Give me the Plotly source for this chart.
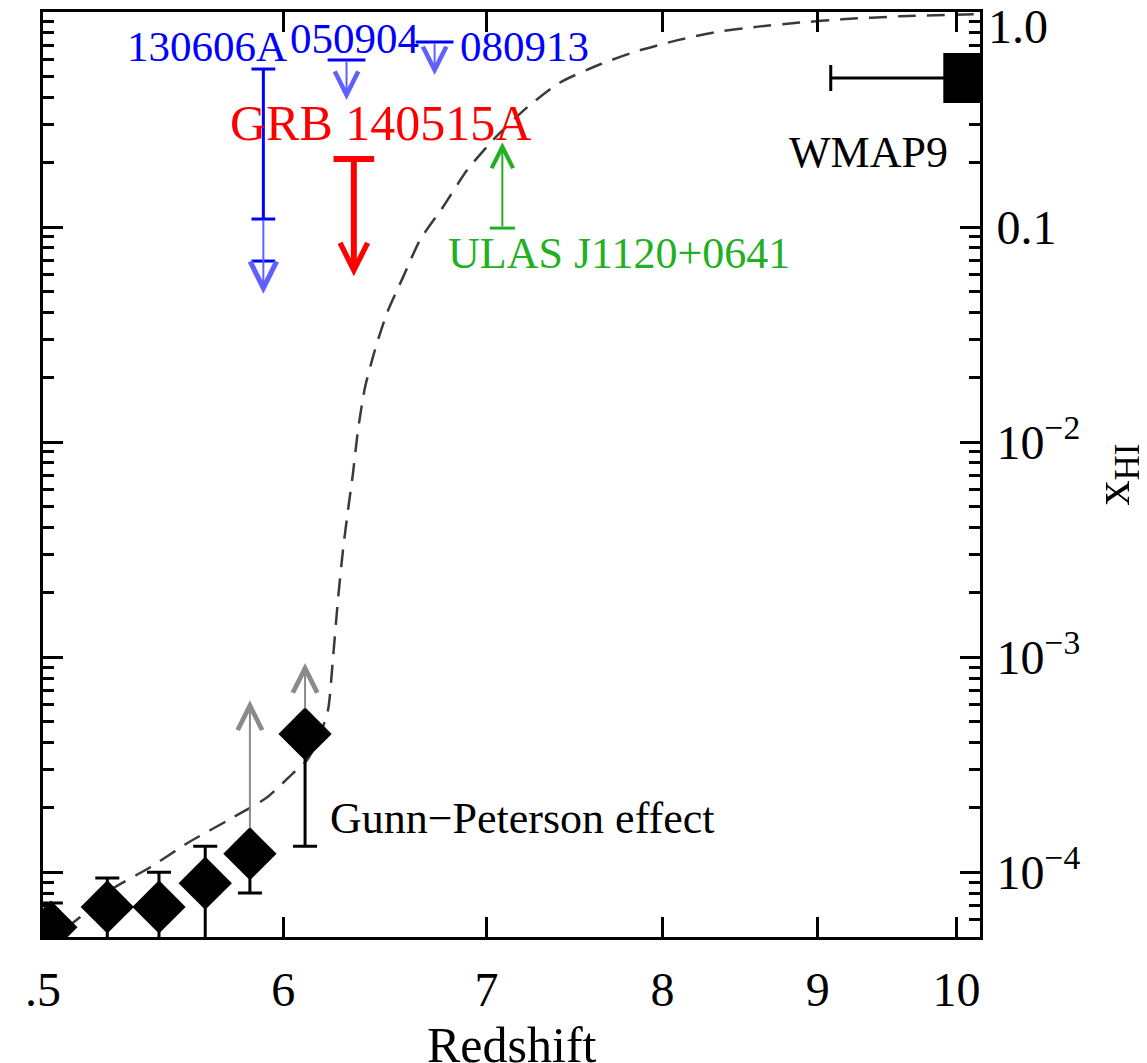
import numpy as np
import plotly.graph_objects as go

# ---------------- data ----------------
# Gunn-Peterson (quasar) constraints
gp_z = [5.03, 5.25, 5.46, 5.655, 5.85, 6.10]
gp_xhi = [5.55e-5, 6.9e-5, 6.9e-5, 8.9e-5, 1.22e-4, 4.4e-4]
gp_upper = [7.2e-5, 9.4e-5, 1.0e-4, 1.32e-4, 1.22e-4, 4.4e-4]
gp_lower = [1e-5, 1e-5, 1e-5, 1e-5, 8.0e-5, 1.32e-4]
# lower-limit arrows (grey) on the two highest-z quasar points
gp_lim_z = [5.85, 6.10]
gp_lim_from = [1.22e-4, 4.4e-4]
gp_lim_to = [6.3e-4, 9.4e-4]

# reionization model curve (dashed)
model_z = [5.0, 5.142, 5.261, 5.424, 5.578, 5.776, 5.927, 6.045, 6.109, 6.160,
           6.207, 6.231, 6.254, 6.278, 6.302, 6.326, 6.350, 6.384, 6.432, 6.491,
           6.571, 6.656, 6.773, 6.898, 7.035, 7.219, 7.402, 7.628, 7.84, 8.094,
           8.344, 8.601, 8.879, 9.168, 9.58, 10.18]
model_xhi = [4.57e-5, 6.18e-5, 8.25e-5, 1.055e-4, 1.364e-4, 1.80e-4, 2.23e-4, 2.89e-4,
             3.32e-4, 4.11e-4, 5.66e-4, 1.0e-3, 1.84e-3, 3.15e-3, 4.83e-3, 7.18e-3,
             1.14e-2, 1.80e-2, 2.68e-2, 3.98e-2, 5.85e-2, 8.71e-2, 0.124, 0.184,
             0.254, 0.36, 0.47, 0.57, 0.655, 0.74, 0.81, 0.855, 0.893, 0.925,
             0.955, 0.978]

# GRB 130606A: measured range + upper limit
g130606_z = 5.91
g130606_range = [0.543, 0.109]
g130606_limit = 0.0695
g130606_arrow = [0.109, 0.049]

# GRB 050904 and GRB 080913 upper limits
g050904_z = 6.295
g050904_arrow = [0.598, 0.39]
g080913_z = 6.73
g080913_arrow = [0.725, 0.509]

# GRB 140515A upper limit
g140515_z = 6.33
g140515_arrow = [0.207, 0.059]

# ULAS J1120+0641 lower limit
ulas_z = 7.085
ulas_arrow = [0.0989, 0.248]

# WMAP9
wmap_z = 10.09
wmap_xhi = 0.493
wmap_zerr_minus = 1.0

# labels
label_text = ["130606A", "050904", "080913", "GRB 140515A",
              "ULAS J1120+0641", "WMAP9", "Gunn\u2212Peterson effect"]
label_z = [5.32, 6.02, 6.85, 5.755, 6.79, 8.79, 6.207]
label_xhi = [0.688, 0.757, 0.688, 0.305, 0.0757, 0.223, 1.78e-4]
label_color = ["#0000ff", "#0000ff", "#0000ff", "#ff0000", "#22b022", "black", "black"]
label_size = [43, 43, 43, 50, 44, 44, 44]

x_tickvals = [5, 6, 7, 8, 9, 10]
x_ticktext = [".5", "6", "7", "8", "9", "10"]
y_tickvals = [1e-4, 1e-3, 1e-2, 0.1, 1.0]
y_ticktext = ["10<sup>\u22124</sup>", "10<sup>\u22123</sup>", "10<sup>\u22122</sup>", "0.1", ""]

# ---------------- figure ----------------
FONT = "Liberation Serif"
BLUE = "#0000ff"
LBLUE = "#6060ff"
RED = "#ff0000"
GREEN = "#22b022"
GREY = "#8a8a8a"

fig = go.Figure()

# dashed model curve
fig.add_trace(go.Scatter(x=model_z, y=model_xhi, mode="lines", line_shape="spline",
                         line=dict(color="#3a3a3a", width=2.5, dash="18px,11px", smoothing=0.6),
                         hoverinfo="skip", showlegend=False))

# Gunn-Peterson points
fig.add_trace(go.Scatter(
    x=gp_z, y=gp_xhi, mode="markers",
    marker=dict(symbol="diamond", size=41, color="black"),
    error_y=dict(type="data", symmetric=False,
                 array=[u - v for u, v in zip(gp_upper, gp_xhi)],
                 arrayminus=[v - l for v, l in zip(gp_xhi, gp_lower)],
                 color="black", thickness=3, width=12),
    showlegend=False))

# GRB 130606A range with caps
fig.add_trace(go.Scatter(x=[g130606_z] * 2, y=g130606_range, mode="lines+markers",
                         line=dict(color=BLUE, width=3),
                         marker=dict(symbol="line-ew", size=17, line=dict(color=BLUE, width=3)),
                         showlegend=False))
fig.add_trace(go.Scatter(x=[g130606_z], y=[g130606_limit], mode="markers",
                         marker=dict(symbol="line-ew", size=17, line=dict(color=BLUE, width=3)),
                         showlegend=False))
# caps of other upper limits
fig.add_trace(go.Scatter(x=[g050904_z, g080913_z], y=[g050904_arrow[0], g080913_arrow[0]],
                         mode="markers",
                         marker=dict(symbol="line-ew", size=27, line=dict(color=BLUE, width=3)),
                         showlegend=False))
fig.add_trace(go.Scatter(x=[g140515_z], y=[g140515_arrow[0]], mode="markers",
                         marker=dict(symbol="line-ew", size=29, line=dict(color=RED, width=6)),
                         showlegend=False))
fig.add_trace(go.Scatter(x=[ulas_z], y=[ulas_arrow[0]], mode="markers",
                         marker=dict(symbol="line-ew", size=18, line=dict(color=GREEN, width=3)),
                         showlegend=False))

# WMAP9
fig.add_trace(go.Scatter(x=[wmap_z], y=[wmap_xhi], mode="markers",
                         marker=dict(symbol="square", size=50, color="black"),
                         error_x=dict(type="data", symmetric=False, array=[0],
                                      arrayminus=[wmap_zerr_minus], color="black",
                                      thickness=3, width=13),
                         showlegend=False))

L = np.log10
annotations = []


def arrow(z, y0, y1, color, width, size, standoff=0):
    annotations.append(dict(x=L(z), y=L(y1), ax=L(z), ay=L(y0),
                            xref="x", yref="y", axref="x", ayref="y",
                            text="", showarrow=True, arrowhead=5,
                            arrowwidth=width, arrowsize=size, arrowcolor=color,
                            startstandoff=standoff))


for z, a, b in zip(gp_lim_z, gp_lim_from, gp_lim_to):
    arrow(z, a, b, GREY, 2, 2.4, standoff=24)
arrow(g130606_z, g130606_arrow[0], g130606_arrow[1], LBLUE, 2, 2.6)
arrow(g050904_z, g050904_arrow[0], g050904_arrow[1], LBLUE, 2, 2.3)
arrow(g080913_z, g080913_arrow[0], g080913_arrow[1], LBLUE, 2, 2.3)
arrow(g140515_z, g140515_arrow[0], g140515_arrow[1], RED, 6, 0.9)
arrow(ulas_z, ulas_arrow[0], ulas_arrow[1], GREEN, 2, 2.1)

for t, z, y, c, s in zip(label_text, label_z, label_xhi, label_color, label_size):
    annotations.append(dict(x=L(z), y=L(y), xref="x", yref="y", text=t,
                            showarrow=False, xanchor="left", yanchor="middle",
                            font=dict(family=FONT, size=s, color=c)))

# "1.0" tick label (kept inside the page)
annotations.append(dict(x=1, y=0, xref="paper", yref="y", text="1.0", showarrow=False,
                        xanchor="left", yanchor="middle", xshift=6, yshift=-14,
                        font=dict(family=FONT, size=48, color="black")))

# x-axis title (placed low, partly running off the bottom edge as in the original)
annotations.append(dict(x=0.5, y=0, xref="paper", yref="paper", text="Redshift",
                        showarrow=False, xanchor="center", yanchor="top", yshift=-78,
                        font=dict(family=FONT, size=50, color="black")))

minor_vals = [m * 10.0 ** e for e in range(-5, 0) for m in range(2, 10)]

axis_common = dict(showgrid=False, zeroline=False, showline=True, linecolor="black",
                   linewidth=3, mirror="ticks", ticks="inside", tickwidth=3,
                   tickcolor="black", ticklen=20)

# page body has an 8px margin: figure is sized so the plot area lands on the reference
fig.update_layout(
    width=1139, height=1055,
    margin=dict(l=35, r=167, t=4, b=126, pad=0),
    paper_bgcolor="white", plot_bgcolor="white",
    font=dict(family=FONT, color="black"),
    showlegend=False,
    annotations=annotations,
    xaxis=dict(type="log", range=[L(5.0), L(10.18)], tickmode="array",
               tickvals=x_tickvals, ticktext=x_ticktext,
               tickfont=dict(size=48), ticklabelstandoff=8,
               automargin=False, **axis_common),
    yaxis=dict(type="log", range=[L(5e-5), 0], side="right", tickmode="array",
               tickvals=y_tickvals, ticktext=y_ticktext,
               tickfont=dict(size=48), ticklabelstandoff=4,
               minor=dict(ticks="inside", ticklen=11, tickwidth=3, tickcolor="black",
                          tickmode="array", tickvals=minor_vals),
               title=dict(text="x<sub>HI</sub>", font=dict(size=50), standoff=22),
               automargin=False, **axis_common),
)

fig.write_html("out.html")
